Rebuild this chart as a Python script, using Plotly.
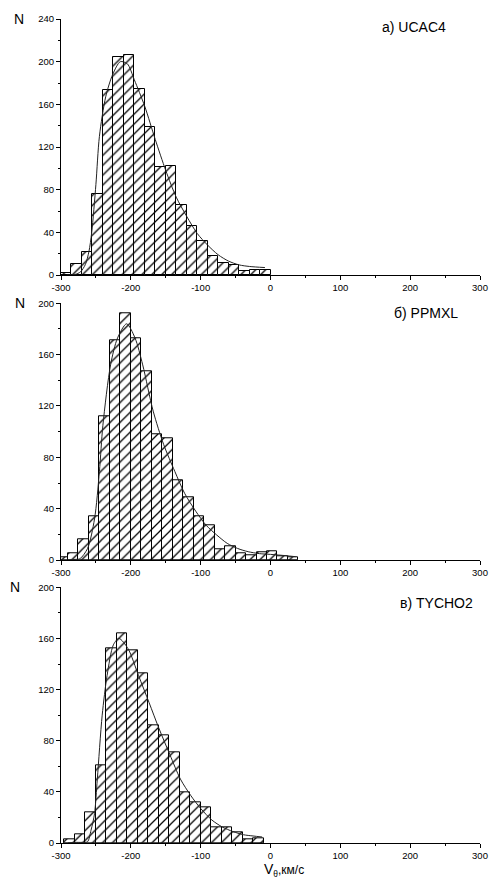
import plotly.graph_objects as go

# ---- histogram data: left bin edges (width 15 km/s) and counts ----
BIN_W = 15

edges_ucac4 = [-300, -285, -270, -255, -240, -225, -210, -195, -180, -165,
               -150, -135, -120, -105, -90, -75, -60, -45, -30, -15]
counts_ucac4 = [2, 10, 22, 76, 173, 204, 206, 174, 139, 101,
                102, 66, 46, 32, 18, 11, 9, 4, 5, 5]

edges_ppmxl = [-305, -290, -275, -260, -245, -230, -215, -200, -185, -170,
               -155, -140, -125, -110, -95, -80, -65, -50, -35, -20,
               -5, 10, 25]
counts_ppmxl = [2, 5, 16, 34, 112, 171, 192, 173, 147, 98,
                95, 62, 49, 34, 27, 8, 11, 5, 4, 6,
                7, 3, 2]

edges_tycho2 = [-295, -280, -265, -250, -235, -220, -205, -190, -175, -160,
                -145, -130, -115, -100, -85, -70, -55, -40, -25]
counts_tycho2 = [3, 7, 24, 61, 152, 164, 151, 133, 92, 84,
                 71, 40, 32, 28, 12, 12, 8, 3, 4]

# ---- fitted curves (read as points, drawn as a smooth line) ----
fit_x_ucac4 = [-292, -280, -272, -265, -260, -256, -250, -245, -236, -226,
               -215, -205, -195, -180, -165, -150, -135, -120, -105, -90,
               -75, -60, -45, -30, -8]
fit_y_ucac4 = [0, 0.5, 3, 10, 22, 40, 85, 130, 167, 188,
               200, 198, 183, 158, 127, 98, 73, 55, 39, 28,
               19, 13, 9.5, 8, 7]

fit_x_ppmxl = [-290, -280, -273, -262, -252, -245, -240, -229, -219, -206,
               -194, -183, -168, -153, -137, -123, -107, -92, -77, -62,
               -47, -32, -16, 0, 22, 36]
fit_y_ppmxl = [0, 0.5, 1, 9, 32, 69, 105, 152, 173, 184,
               173, 152, 116, 90, 69, 52, 38, 27, 19.5, 13,
               9, 6.5, 5, 4.4, 3.4, 2.6]

fit_x_tycho2 = [-290, -280, -270, -262, -257, -252, -248, -241, -234, -225,
                -217, -204, -189, -174, -160, -144, -129, -114, -100, -84,
                -69, -54, -39, -25, -12]
fit_y_tycho2 = [0, 0.5, 0.5, 1, 10, 23, 50, 100, 131, 155,
                160, 152, 131, 110, 90, 69, 50, 37, 27, 18,
                12.5, 9, 6.5, 5.5, 4.7]

panel_titles = ["а) UCAC4", "б) PPMXL", "в) TYCHO2"]
y_max = [240, 200, 200]
x_ticks = [-300, -200, -100, 0, 100, 200, 300]

FONT = "Liberation Sans, Arial, sans-serif"

panels = [
    (edges_ucac4, counts_ucac4, fit_x_ucac4, fit_y_ucac4),
    (edges_ppmxl, counts_ppmxl, fit_x_ppmxl, fit_y_ppmxl),
    (edges_tycho2, counts_tycho2, fit_x_tycho2, fit_y_tycho2),
]

# vertical domains (paper fractions) for the three stacked panels
domains = [[0.6893, 1.0], [0.3434, 0.655], [0.0, 0.3103]]

fig = go.Figure()

for i, (edges, counts, fx, fy) in enumerate(panels):
    xa = "x" if i == 0 else f"x{i+1}"
    ya = "y" if i == 0 else f"y{i+1}"
    fig.add_trace(go.Bar(
        x=edges, y=counts, width=BIN_W, offset=0,
        xaxis=xa, yaxis=ya,
        marker=dict(
            color="white",
            line=dict(color="black", width=1),
            pattern=dict(shape="/", fgcolor="black", bgcolor="white",
                         size=7, solidity=0.18, fillmode="replace"),
        ),
        showlegend=False, hoverinfo="skip",
    ))
    fig.add_trace(go.Scatter(
        x=fx, y=fy, mode="lines", xaxis=xa, yaxis=ya,
        line=dict(color="#222222", width=1, shape="spline", smoothing=0.8),
        showlegend=False, hoverinfo="skip",
    ))

axis_common = dict(
    showline=True, linecolor="black", linewidth=1,
    ticks="outside", ticklen=4, tickwidth=1, tickcolor="black",
    showgrid=False, zeroline=False,
    tickfont=dict(family=FONT, size=9.5, color="black"),
)

layout = dict(
    width=497, height=880,
    margin=dict(l=61, r=9, t=19, b=37),
    paper_bgcolor="white", plot_bgcolor="white",
    bargap=0,
    font=dict(family=FONT, color="black"),
)

for i in range(3):
    xk = "xaxis" if i == 0 else f"xaxis{i+1}"
    yk = "yaxis" if i == 0 else f"yaxis{i+1}"
    ya = "y" if i == 0 else f"y{i+1}"
    xa = "x" if i == 0 else f"x{i+1}"
    layout[xk] = dict(
        axis_common, domain=[0, 1], anchor=ya, range=[-300, 300],
        tickvals=x_ticks, ticktext=[str(v) for v in x_ticks],
        minor=dict(dtick=50, tick0=0, ticks="outside", ticklen=2,
                   tickcolor="black"),
    )
    layout[yk] = dict(
        axis_common, domain=domains[i], anchor=xa, range=[0, y_max[i]],
        tickvals=list(range(0, y_max[i] + 1, 40)),
        minor=dict(dtick=20, tick0=0, ticks="outside", ticklen=2,
                   tickcolor="black"),
    )

fig.update_layout(**layout)

# panel captions
caption_pos = [(0.761, 0.969), (0.789, 0.962), (0.805, 0.939)]
for i, (cx, cy) in enumerate(caption_pos):
    xa = "x" if i == 0 else f"x{i+1}"
    ya = "y" if i == 0 else f"y{i+1}"
    fig.add_annotation(
        text=panel_titles[i], xref=f"{xa} domain", yref=f"{ya} domain",
        x=cx, y=cy, xanchor="left", yanchor="middle", showarrow=False,
        font=dict(family=FONT, size=14, color="black"),
    )

# "N" axis labels
n_pos = [(18.7, 18.7), (19, 303), (14.5, 587)]
for px, py in n_pos:
    fig.add_annotation(
        text="N", xref="paper", yref="paper",
        x=(px - 61) / 427, y=(843 - py) / 824,
        xanchor="center", yanchor="middle", showarrow=False,
        font=dict(family=FONT, size=14, color="black"),
    )

# x-axis title of the bottom panel
fig.add_annotation(
    text="<span style='font-size:14px'>V</span><sub>θ</sub>,км/с",
    xref="paper", yref="paper",
    x=(266 - 61) / 427, y=(843 - 870) / 824,
    xanchor="left", yanchor="middle", showarrow=False,
    font=dict(family=FONT, size=12, color="black"),
)

fig.write_html("out.html")
